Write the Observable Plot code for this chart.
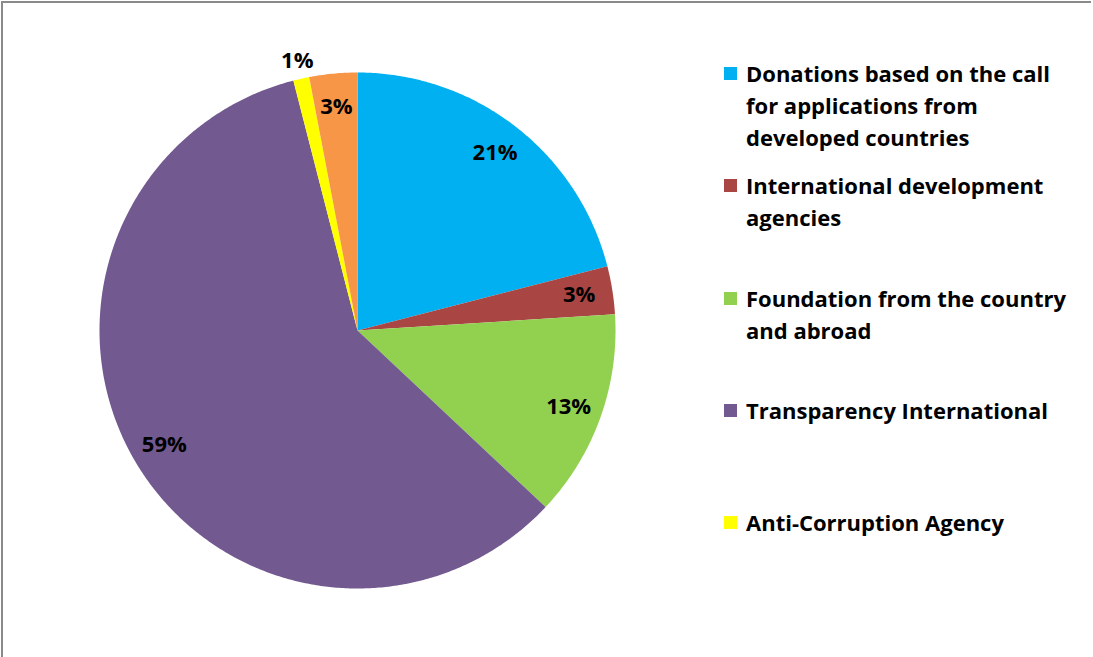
<!DOCTYPE html>
<html>
<head>
<meta charset="utf-8">
<script src="https://cdn.jsdelivr.net/npm/d3@7"></script>
<script src="https://cdn.jsdelivr.net/npm/@observablehq/plot@0.6"></script>
<style>
  html, body { margin: 0; padding: 0; background: #fff; }
  #wrap { position: relative; width: 1093px; height: 657px; overflow: hidden; }
  #frame { position: absolute; left: 1px; top: 1px; width: 1090px; height: 700px;
           border-left: 2px solid #8a8a8a; border-top: 2px solid #8a8a8a; box-sizing: border-box; pointer-events: none; }
  #chart { position: absolute; left: 0; top: 0; }
  #legend { position: absolute; left: 724px; top: 57px; font-family: "Open Sans", Lato, sans-serif;
            font-weight: bold; font-size: 22px; color: #000; }
  .item { position: absolute; left: 0; display: flex; align-items: flex-start; white-space: pre; line-height: 32px; }
  .sw { width: 13px; height: 13px; margin-top: 10px; margin-right: 9px; flex: none; }
</style>
</head>
<body>
<div id="wrap">
  <div id="chart"></div>
  <div id="legend"></div>
  <div id="frame"></div>
</div>
<script>
const categories = [
  "Donations based on the call for applications from developed countries",
  "International development agencies",
  "Foundation from the country and abroad",
  "Transparency International",
  "Anti-Corruption Agency",
  "Other"
];
const shares = [21, 3, 13, 59, 1, 3];
const colors = ["#00B0F0", "#A94643", "#92D050", "#725990", "#FFFF00", "#F79646"];
const legendLabels = [
  "Donations based on the call\nfor applications from\ndeveloped countries",
  "International development\nagencies",
  "Foundation from the country\nand abroad",
  "Transparency International",
  "Anti-Corruption Agency"
];

const data = categories.map((name, i) => ({name, value: shares[i], color: colors[i]}));
const arcs = d3.pie().sort(null).value(d => d.value).startAngle(0).endAngle(2 * Math.PI)(data);

// polygon points for each slice (unit radius)
const pts = [];
for (const a of arcs) {
  pts.push({name: a.data.name, color: a.data.color, x: 0, y: 0});
  const n = Math.max(4, Math.ceil((a.endAngle - a.startAngle) / (Math.PI / 360)));
  for (let k = 0; k <= n; k++) {
    const t = a.startAngle + (a.endAngle - a.startAngle) * k / n;
    pts.push({name: a.data.name, color: a.data.color, x: Math.sin(t), y: Math.cos(t)});
  }
  pts.push({name: a.data.name, color: a.data.color, x: 0, y: 0});
}

// small slices get their label outside the pie, others inside near the rim
const labels = arcs.map(a => {
  const mid = (a.startAngle + a.endAngle) / 2;
  const r = a.data.value < 2 ? 1.07 : 0.87;
  return {text: a.data.value + "%", x: r * Math.sin(mid), y: r * Math.cos(mid)};
});

const W = 1093, H = 657, cx = 357, cy = 330, R = 258;
const chart = Plot.plot({
  width: W, height: H,
  margin: 0,
  x: {domain: [-cx / R, (W - cx) / R], axis: null},
  y: {domain: [-(H - cy) / R, cy / R], axis: null},
  color: {type: "identity"},
  marks: [
    Plot.line(pts, {x: "x", y: "y", z: "name", fill: "color", stroke: null, curve: "linear"}),
    Plot.text(labels, {x: "x", y: "y", text: "text", fontSize: 22, fontWeight: "bold",
      fontFamily: "'Open Sans', Lato, sans-serif", fill: "#000"})
  ]
});
document.getElementById("chart").appendChild(chart);

const legend = document.getElementById("legend");
legendLabels.forEach((lab, i) => {
  const item = document.createElement("div");
  item.className = "item";
  item.style.top = (i * 112.3) + "px";
  const sw = document.createElement("div");
  sw.className = "sw";
  sw.style.background = colors[i];
  const tx = document.createElement("div");
  tx.textContent = lab;
  item.appendChild(sw);
  item.appendChild(tx);
  legend.appendChild(item);
});
</script>
</body>
</html>
